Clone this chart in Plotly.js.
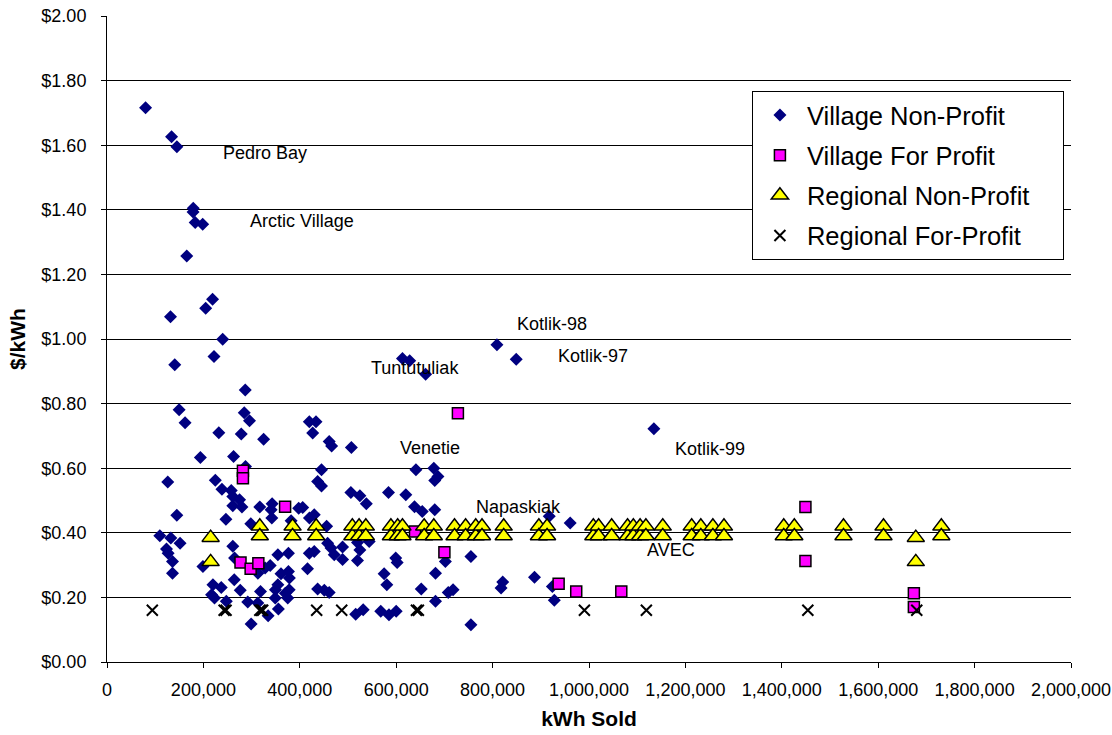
<!DOCTYPE html>
<html>
<head>
<meta charset="utf-8">
<script src="https://cdn.plot.ly/plotly-3.0.1.min.js"></script>
<style>
html,body{margin:0;padding:0;background:#fff;}
#chart{width:1112px;height:735px;}
</style>
</head>
<body>
<div id="chart"></div>
<script>
// Village Non-Profit (kWh sold, $/kWh)
var vnpX = [80000,134000,145000,179000,178500,183000,198500,165500,219000,204700,131700,240000,222000,140600,286800,
  149600,162000,284700,295700,232000,278500,325000,193700,262600,287400,126000,224700,238500,257800,261000,275000,261000,280000,317000,342600,340500,397700,144800,246700,298400,341900,382000,109600,132400,151600,123400,126800,135900,135900,199000,261000,264700,264000,276500,219800,237000,217000,223000,247500,299000,292000,312900,318500,334300,355600,349000,354500,376400,338600,328000,313000,361000,376400,378400,354500,370000,375000,349500,378000,
  419800,433600,426700,461000,466000,507000,445000,437000,445000,506000,524600,538000,584000,620000,641000,678000,686600,680000,638000,654000,680000,406000,420000,430000,455600,457700,464700,471500,488700,488700,519700,524600,519700,544000,419800,430000,416000,437000,450800,461000,516000,531500,568000,585000,600000,575000,580500,599000,602000,652000,681600,681600,702000,708000,718000,755000,755000,
  809000,849000,613000,628000,661000,
  1134600,917600,961000,821000,817500,887000,924000,928000];
var vnpY = [1.716,1.626,1.595,1.405,1.393,1.361,1.355,1.257,1.123,1.095,1.069,0.999,0.946,0.920,0.842,
  0.781,0.741,0.772,0.747,0.710,0.706,0.690,0.633,0.636,0.605,0.557,0.563,0.535,0.531,0.512,0.502,0.484,0.480,0.480,0.490,0.471,0.476,0.454,0.442,0.428,0.446,0.437,0.391,0.384,0.368,0.350,0.337,0.311,0.275,0.296,0.358,0.322,0.255,0.222,0.239,0.231,0.208,0.198,0.188,0.118,0.186,0.183,0.218,0.143,0.164,0.198,0.332,0.337,0.299,0.291,0.275,0.273,0.280,0.260,0.239,0.213,0.198,0.224,0.224,
  0.744,0.744,0.709,0.683,0.669,0.664,0.595,0.559,0.545,0.525,0.515,0.490,0.525,0.518,0.595,0.600,0.574,0.562,0.481,0.466,0.471,0.478,0.446,0.456,0.420,0.368,0.353,0.332,0.356,0.317,0.370,0.347,0.314,0.373,0.337,0.342,0.289,0.226,0.222,0.215,0.148,0.162,0.157,0.146,0.157,0.273,0.239,0.322,0.308,0.226,0.275,0.188,0.311,0.215,0.224,0.327,0.115,
  0.982,0.937,0.940,0.933,0.891,
  0.722,0.451,0.430,0.248,0.229,0.262,0.234,0.191];

// Village For Profit
var vfpX = [282000,282000,277000,298000,314000,369500,639000,700000,728000,937000,973500,1067000,1449000,1449000,1674000,1674000];
var vfpY = [0.592,0.569,0.308,0.289,0.306,0.481,0.404,0.340,0.770,0.242,0.218,0.218,0.480,0.313,0.213,0.170];

// Regional Non-Profit
var rnpX = [215000,215000,317000,317000,385000,385000,434000,434000,509000,509000,523000,523000,537000,537000,589000,589000,603000,603000,613000,613000,658000,658000,678000,678000,721000,721000,744000,744000,765000,765000,778000,778000,823000,823000,896000,896000,913000,913000,1009000,1009000,1020000,1020000,1047000,1047000,1080000,1080000,1092000,1092000,1106000,1106000,1118000,1118000,1153000,1153000,1213000,1213000,1232000,1232000,1257000,1257000,1280000,1280000,1404000,1404000,1426000,1426000,1528000,1528000,1611000,1611000,1678000,1678000,1731000,1731000];
var rnpY = [0.385,0.31,0.42,0.39,0.42,0.39,0.42,0.39,0.42,0.39,0.42,0.39,0.42,0.39,0.42,0.39,0.42,0.39,0.42,0.39,0.42,0.39,0.42,0.39,0.42,0.39,0.42,0.39,0.42,0.39,0.42,0.39,0.42,0.39,0.42,0.39,0.42,0.39,0.42,0.39,0.42,0.39,0.42,0.39,0.42,0.39,0.42,0.39,0.42,0.39,0.42,0.39,0.42,0.39,0.42,0.39,0.42,0.39,0.42,0.39,0.42,0.39,0.42,0.39,0.42,0.39,0.42,0.39,0.42,0.39,0.385,0.31,0.42,0.39];

// Regional For-Profit
var rfpX = [94000,243000,247000,317000,320000,323000,435000,487000,642000,646000,990500,1119000,1454000,1680000];
var rfpY = [0.16,0.16,0.16,0.16,0.16,0.16,0.16,0.16,0.16,0.16,0.16,0.16,0.16,0.16];

// Point labels
var labelText = ["Pedro Bay","Arctic Village","Kotlik-98","Kotlik-97","Tuntutuliak","Venetie","Napaskiak","AVEC","Kotlik-99"];
var labelX = [236000,292000,846000,931000,544000,604000,761000,1117000,1175000];
var labelY = [1.576,1.365,1.047,0.948,0.911,0.663,0.480,0.347,0.660];

var xTicks = [0,200000,400000,600000,800000,1000000,1200000,1400000,1600000,1800000,2000000];
var yTicks = [0,0.2,0.4,0.6,0.8,1.0,1.2,1.4,1.6,1.8,2.0];

var FONT = "Liberation Sans, Arial, sans-serif";
var PAD = "\u00a0\u00a0\u00a0\u00a0";

var traces = [
  {x: vnpX, y: vnpY, type: 'scatter', mode: 'markers', name: 'Village Non-Profit', legendgroup: 'a',
   marker: {symbol: 'diamond', size: 10, color: '#000080', line: {width: 0}}},
  {x: vfpX, y: vfpY, type: 'scatter', mode: 'markers', name: 'Village For Profit', legendgroup: 'b',
   marker: {symbol: 'square', size: 11, color: '#ff00ff', line: {width: 1.5, color: '#000'}}},
  {x: rnpX, y: rnpY, type: 'scatter', mode: 'markers', name: 'Regional Non-Profit' + PAD, legendgroup: 'c',
   marker: {symbol: 'triangle-up', size: 15, color: '#ffff00', line: {width: 1.5, color: '#000'}}},
  {x: rfpX, y: rfpY, type: 'scatter', mode: 'markers', name: 'Regional For-Profit', legendgroup: 'd',
   marker: {symbol: 'x-thin', size: 11, color: '#000', line: {width: 2, color: '#000'}}}
];

var annotations = labelText.map(function(t, i){
  return {x: labelX[i], y: labelY[i], text: t, showarrow: false, xanchor: 'left', yanchor: 'middle',
          font: {family: FONT, size: 18, color: '#000'}};
});

var layout = {
  width: 1112, height: 735,
  margin: {l: 107, r: 41, t: 16, b: 73},
  paper_bgcolor: '#fff', plot_bgcolor: '#fff',
  font: {family: FONT, size: 18, color: '#000'},
  showlegend: true,
  legend: {x: 0.669, y: 0.884, xanchor: 'left', yanchor: 'top', bgcolor: '#fff',
           bordercolor: '#000', borderwidth: 1, font: {family: FONT, size: 25.5, color: '#000'},
           traceorder: 'grouped', tracegroupgap: 4, itemwidth: 44},
  xaxis: {range: [0, 2000000], tickvals: xTicks, tickformat: ',d', showgrid: false, zeroline: false,
          showline: true, linecolor: '#000', linewidth: 1, ticks: 'outside', ticklen: 5, tickcolor: '#000',
          tickfont: {family: FONT, size: 18}, ticklabelstandoff: 6, ticklabeloverflow: 'allow',
          title: {text: '<b>kWh Sold</b>', font: {family: FONT, size: 21}, standoff: 12}},
  yaxis: {range: [0, 2.0], tickvals: yTicks, tickformat: '$.2f', showgrid: true, gridcolor: '#000', gridwidth: 1,
          zeroline: false, showline: true, linecolor: '#000', linewidth: 1, ticks: 'outside', ticklen: 5, tickcolor: '#000',
          tickfont: {family: FONT, size: 18}, ticklabelstandoff: 11,
          title: {text: '<b>$/kWh</b>', font: {family: FONT, size: 21}, standoff: 10}},
  annotations: annotations
};

Plotly.newPlot('chart', traces, layout, {displayModeBar: false, staticPlot: true});
</script>
</body>
</html>
